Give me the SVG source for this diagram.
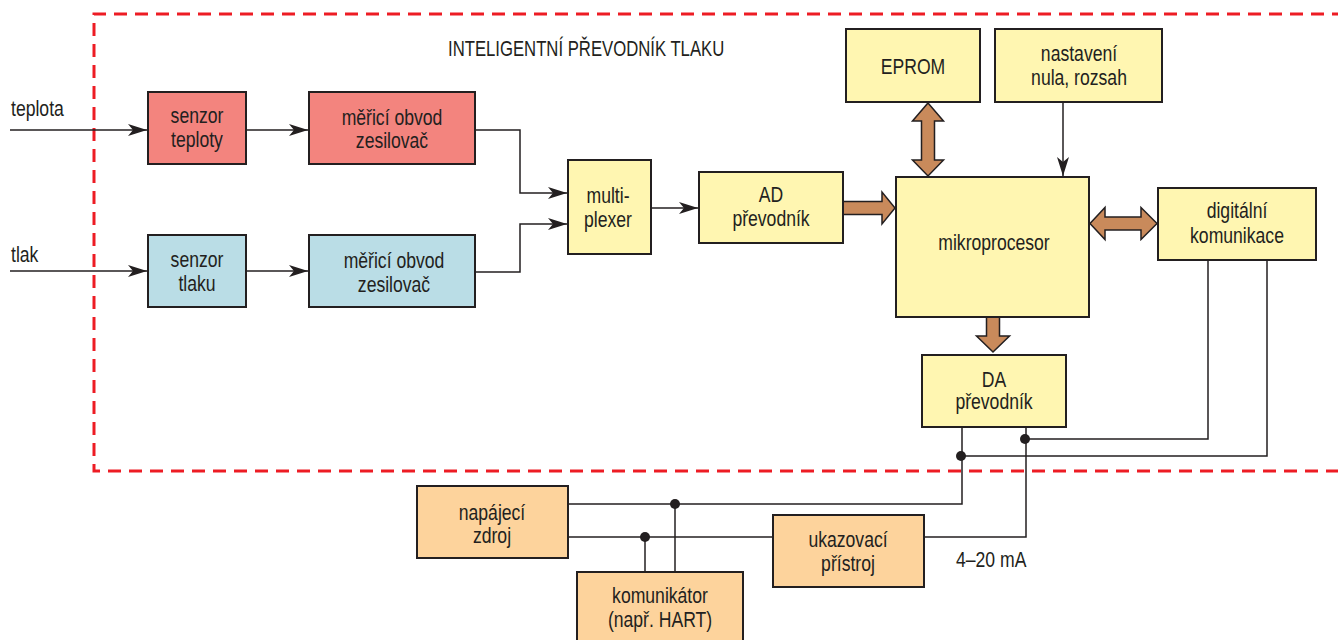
<svg xmlns="http://www.w3.org/2000/svg" width="1338" height="640" viewBox="0 0 1338 640">
  <defs>
    <style>
      .box { stroke: #231f20; stroke-width: 2; }
      .red { fill: #f3847e; }
      .blue { fill: #badde6; }
      .yellow { fill: #fff6b1; }
      .orange { fill: #fdd39c; }
      .wire { fill: none; stroke: #231f20; stroke-width: 1.5; }
      .bus { fill: #c98a5b; stroke: #231f20; stroke-width: 1.5; stroke-linejoin: miter; }
      .dot { fill: #231f20; }
      /* condensed sans: Liberation Sans squeezed horizontally */
      text { font-family: "Liberation Sans", Arial, sans-serif; font-size: 22px; fill: #231f20; }
      .c { text-anchor: middle; }
    </style>
    <marker id="arrow" markerUnits="userSpaceOnUse" markerWidth="20" markerHeight="14" refX="19" refY="6" orient="auto" viewBox="0 0 20 12">
      <path d="M0,0 L19,6 L0,12 L5,6 Z" fill="#231f20"/>
    </marker>
  </defs>

  <!-- device boundary -->
  <path d="M1345,14 H94 V471 H1345" fill="none" stroke="#ed1c24" stroke-width="3" stroke-dasharray="13 8"/>
  <text transform="translate(448,56) scale(0.76,1)">INTELIGENTNÍ PŘEVODNÍK TLAKU</text>

  <!-- input labels -->
  <text transform="translate(11,116) scale(0.8,1)">teplota</text>
  <text transform="translate(11,262) scale(0.8,1)">tlak</text>
  <text transform="translate(956,567) scale(0.8,1)">4–20 mA</text>

  <!-- connectors -->
  <g id="connectors">
    <path class="wire" d="M10,130 H147" marker-end="url(#arrow)"/>
    <path class="wire" d="M246,130 H308" marker-end="url(#arrow)"/>
    <path class="wire" d="M10,271 H147" marker-end="url(#arrow)"/>
    <path class="wire" d="M246,271 H308" marker-end="url(#arrow)"/>
    <path class="wire" d="M475,130 H520 V193 H567" marker-end="url(#arrow)"/>
    <path class="wire" d="M475,272 H520 V224 H567" marker-end="url(#arrow)"/>
    <path class="wire" d="M651,208 H698" marker-end="url(#arrow)"/>
    <path class="wire" d="M1063,102 V176" marker-end="url(#arrow)"/>

    <!-- data buses -->
    <polygon class="bus" points="843,201.5 882,201.5 882,192 895,208 882,224 882,214.5 843,214.5"/>
    <polygon class="bus" points="928,103 943.5,121 934.5,121 934.5,160 943.5,160 928,176 912.5,160 921.5,160 921.5,121 912.5,121"/>
    <polygon class="bus" points="1090,223.5 1105,207.5 1105,217 1141,217 1141,207.5 1157,223.5 1141,239.5 1141,230 1105,230 1105,239.5"/>
    <polygon class="bus" points="986.5,317 999.5,317 999.5,336 1009.5,336 993,352 976.5,336 986.5,336"/>

    <!-- current loop and digital link -->
    <path class="wire" d="M1208,260 V439 H1025"/>
    <path class="wire" d="M1267,260 V456 H961"/>
    <path class="wire" d="M962,427 V504 H568"/>
    <path class="wire" d="M1026,427 V537 H924"/>
    <path class="wire" d="M568,537 H773"/>
    <path class="wire" d="M645,537 V572"/>
    <path class="wire" d="M675,504 V572"/>
    <circle class="dot" cx="1025" cy="439" r="5"/>
    <circle class="dot" cx="961" cy="456" r="5"/>
    <circle class="dot" cx="675" cy="504" r="5"/>
    <circle class="dot" cx="645" cy="537" r="5"/>
  </g>

  <g id="senzor-teploty">
    <rect class="box red" x="148" y="92" width="98" height="72"/>
    <text class="c" transform="translate(197,123) scale(0.8,1)">senzor</text>
    <text class="c" transform="translate(197,147) scale(0.8,1)">teploty</text>
  </g>
  <g id="obvod-teplota">
    <rect class="box red" x="309" y="92" width="166" height="72"/>
    <text class="c" transform="translate(392,125) scale(0.8,1)">měřicí obvod</text>
    <text class="c" transform="translate(392,148) scale(0.8,1)">zesilovač</text>
  </g>
  <g id="senzor-tlaku">
    <rect class="box blue" x="148" y="235" width="98" height="72"/>
    <text class="c" transform="translate(197,267) scale(0.8,1)">senzor</text>
    <text class="c" transform="translate(197,291) scale(0.8,1)">tlaku</text>
  </g>
  <g id="obvod-tlak">
    <rect class="box blue" x="309" y="235" width="166" height="72"/>
    <text class="c" transform="translate(394,268) scale(0.8,1)">měřicí obvod</text>
    <text class="c" transform="translate(394,292) scale(0.8,1)">zesilovač</text>
  </g>
  <g id="multiplexer">
    <rect class="box yellow" x="568" y="160" width="83" height="94"/>
    <text class="c" transform="translate(608,203) scale(0.8,1)">multi-</text>
    <text class="c" transform="translate(608,227) scale(0.8,1)">plexer</text>
  </g>
  <g id="ad-prevodnik">
    <rect class="box yellow" x="699" y="172" width="144" height="71"/>
    <text class="c" transform="translate(771,202) scale(0.8,1)">AD</text>
    <text class="c" transform="translate(771,226) scale(0.8,1)">převodník</text>
  </g>
  <g id="eprom">
    <rect class="box yellow" x="846" y="29" width="134" height="73"/>
    <text class="c" transform="translate(913,74) scale(0.8,1)">EPROM</text>
  </g>
  <g id="nastaveni">
    <rect class="box yellow" x="995" y="29" width="167" height="73"/>
    <text class="c" transform="translate(1079,61) scale(0.8,1)">nastavení</text>
    <text class="c" transform="translate(1079,85) scale(0.8,1)">nula, rozsah</text>
  </g>
  <g id="mikroprocesor">
    <rect class="box yellow" x="896" y="177" width="193" height="140"/>
    <text class="c" transform="translate(994,250) scale(0.8,1)">mikroprocesor</text>
  </g>
  <g id="digitalni-komunikace">
    <rect class="box yellow" x="1158" y="188" width="158" height="72"/>
    <text class="c" transform="translate(1237,218) scale(0.8,1)">digitální</text>
    <text class="c" transform="translate(1237,243) scale(0.8,1)">komunikace</text>
  </g>
  <g id="da-prevodnik">
    <rect class="box yellow" x="922" y="355" width="144" height="72"/>
    <text class="c" transform="translate(994,387) scale(0.8,1)">DA</text>
    <text class="c" transform="translate(994,409) scale(0.8,1)">převodník</text>
  </g>
  <g id="napajeci-zdroj">
    <rect class="box orange" x="417" y="486" width="151" height="72"/>
    <text class="c" transform="translate(492,520) scale(0.8,1)">napájecí</text>
    <text class="c" transform="translate(492,543) scale(0.8,1)">zdroj</text>
  </g>
  <g id="komunikator">
    <rect class="box orange" x="577" y="572" width="166" height="72"/>
    <text class="c" transform="translate(660,603) scale(0.8,1)">komunikátor</text>
    <text class="c" transform="translate(660,627) scale(0.8,1)">(např. HART)</text>
  </g>
  <g id="ukazovaci-pristroj">
    <rect class="box orange" x="773" y="515" width="151" height="72"/>
    <text class="c" transform="translate(848,547) scale(0.8,1)">ukazovací</text>
    <text class="c" transform="translate(848,571) scale(0.8,1)">přístroj</text>
  </g>
</svg>
